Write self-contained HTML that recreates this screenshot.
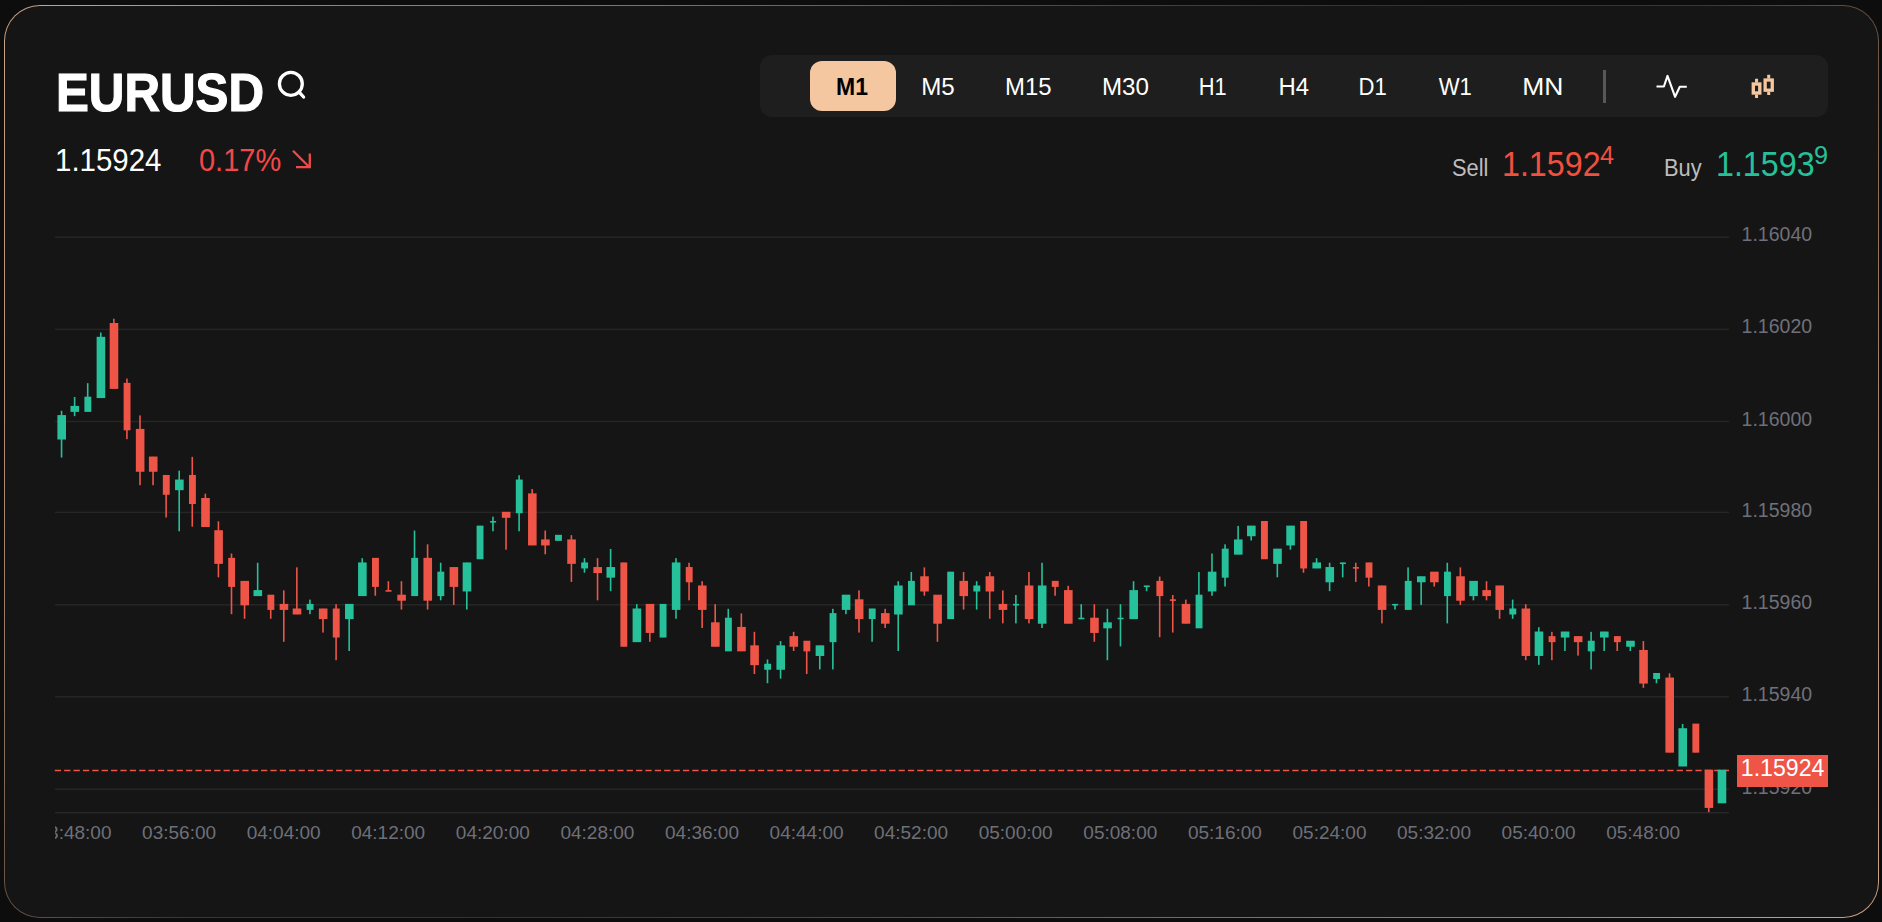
<!DOCTYPE html>
<html><head><meta charset="utf-8"><title>EURUSD</title>
<style>
html,body{margin:0;padding:0;background:#0d0d0d;}
body{width:1882px;height:922px;position:relative;overflow:hidden;font-family:"Liberation Sans",sans-serif;}
.card{position:absolute;left:3.9px;top:4.8px;width:1875.2px;height:913.5px;border-radius:36px;background:conic-gradient(from 0deg at 50% 50%,#645144 0deg,#3b3029 45deg,#40342c 59deg,#5f4d40 63.2deg,#645144 64.5deg,#786150 69deg,#866c59 72deg,#ac8b72 90deg,#cda587 116deg,#a0816a 125.6deg,#5f4d40 180deg,#3b3029 225deg,#40342c 239deg,#5f4d40 243.2deg,#645144 244.5deg,#786150 249deg,#886e5b 252deg,#b08e75 270deg,#cda587 296deg,#a0816a 305.6deg,#645144 360deg);}
.card i{position:absolute;left:1.25px;top:1.25px;right:1.25px;bottom:1.25px;border-radius:34.75px;background:#151515;display:block}
.abs{position:absolute;white-space:nowrap;line-height:1}
.title{left:56.2px;top:65.5px;font-size:54.5px;-webkit-text-stroke:1.2px #fff;font-weight:bold;color:#fff;transform-origin:0 0;transform:scaleX(.904);letter-spacing:0}
.price{left:55px;top:144.5px;font-size:31.5px;color:#fff;transform-origin:0 0;transform:scaleX(.935)}
.chg{left:199px;top:144.5px;font-size:31.5px;color:#f44848;transform-origin:0 0;transform:scaleX(.92)}
.toolbar{position:absolute;left:760.3px;top:55.3px;width:1067.7px;height:62px;border-radius:12px;background:#1e1e1e}
.tf{position:absolute;top:61.2px;height:50.3px;border-radius:12px;color:#fff;font-size:23px;text-align:center;line-height:53.2px}
.tf span{display:inline-block}
.tf.act{background:#f4c7a1;color:#000;font-weight:bold}
.sep{position:absolute;left:1603px;top:70.2px;width:3px;height:32.5px;background:#585858}
.lbl{font-size:23.5px;color:#bdbdbd;transform-origin:0 0;transform:scaleX(.93)}
.big{font-size:34.7px;transform-origin:0 0;transform:scaleX(.929)}
.sup{font-size:25.5px;transform-origin:0 0;transform:scaleX(.99)}
.chart{position:absolute;left:0;top:0}
.yl{position:absolute;left:1741.6px;font-size:19.5px;color:#6e707a;line-height:1;white-space:nowrap}
.xwrap{position:absolute;left:55px;top:0;width:1674px;height:922px;overflow:hidden}
.xl{position:absolute;top:822.9px;width:100px;margin-left:-55px;text-align:center;font-size:19px;color:#6e7079;line-height:1;white-space:nowrap}
.tag{position:absolute;left:1737px;top:755px;width:91px;height:31.5px;background:#ee5547;color:#fff;font-size:23px;line-height:27.3px;text-align:center;white-space:nowrap}
.tag span{display:inline-block;transform:scaleX(1.005)}
</style></head><body>
<div class="card"><i></i></div>
<div class="abs title">EURUSD</div>
<svg class="abs" style="left:274px;top:68px" width="36" height="36" viewBox="0 0 36 36"><circle cx="16.85" cy="15.85" r="11.45" fill="none" stroke="#fff" stroke-width="3.3"/><line x1="24.9" y1="23.9" x2="29.6" y2="29" stroke="#fff" stroke-width="3.3" stroke-linecap="round"/></svg>
<div class="abs price">1.15924</div>
<div class="abs chg">0.17%</div>
<svg class="abs" style="left:288px;top:146px" width="28" height="28" viewBox="0 0 28 28"><path d="M5 4.7 L21.5 21.2 M8 21.2 H21.8 V7.4" fill="none" stroke="#f44848" stroke-width="2.3"/></svg>
<div class="toolbar"></div>
<div class="tf act" style="left:810px;width:86px"><span style="transform:translateX(-1px) scaleX(1.0)">M1</span></div><div class="tf" style="left:896px;width:85px"><span style="transform:translateX(-1px) scaleX(1.05)">M5</span></div><div class="tf" style="left:981px;width:96px"><span style="transform:translateX(-1px) scaleX(1.04)">M15</span></div><div class="tf" style="left:1077px;width:98px"><span style="transform:translateX(-1px) scaleX(1.05)">M30</span></div><div class="tf" style="left:1175px;width:77px"><span style="transform:translateX(-1px) scaleX(0.95)">H1</span></div><div class="tf" style="left:1252px;width:85px"><span style="transform:translateX(-1px) scaleX(1.04)">H4</span></div><div class="tf" style="left:1337px;width:72px"><span style="transform:translateX(0px) scaleX(0.96)">D1</span></div><div class="tf" style="left:1409px;width:92px"><span style="transform:translateX(0px) scaleX(0.96)">W1</span></div><div class="tf" style="left:1501px;width:84px"><span style="transform:translateX(0px) scaleX(1.15)">MN</span></div>
<div class="sep"></div>
<svg class="abs" style="left:1650px;top:70px" width="44" height="34" viewBox="0 0 44 34"><path d="M6.5 16.5 H13.9 L17.5 5.9 L25.1 26.8 L29.8 16.7 H36.8" fill="none" stroke="#fff" stroke-width="2.1" stroke-linejoin="round"/></svg>
<svg class="abs" style="left:1745px;top:70px" width="36" height="34" viewBox="0 0 36 34"><g fill="none" stroke="#f4c7a1"><rect x="8.3" y="14" width="6.5" height="9" stroke-width="3.4"/><path d="M11.55 8.7V12.5 M11.55 24.5V27.9" stroke-width="3"/><rect x="20.15" y="10" width="7.1" height="10.2" stroke-width="3.3"/><path d="M23.7 4.8V8.5 M23.7 21.7V25.1" stroke-width="3"/></g></svg>
<div class="abs lbl" style="left:1452px;top:157px">Sell</div>
<div class="abs big" style="left:1501.5px;top:146.8px;color:#f2503f">1.1592</div>
<div class="abs sup" style="left:1600px;top:142.9px;color:#f2503f">4</div>
<div class="abs lbl" style="left:1664px;top:157px">Buy</div>
<div class="abs big" style="left:1715.5px;top:146.8px;color:#26c19a">1.1593</div>
<div class="abs sup" style="left:1813.5px;top:142.9px;color:#26c19a">9</div>
<svg class="chart" width="1882" height="922" viewBox="0 0 1882 922"><rect x="55" y="236.35" width="1674" height="1.5" fill="#262626"/><rect x="55" y="328.65" width="1674" height="1.5" fill="#262626"/><rect x="55" y="420.75" width="1674" height="1.5" fill="#262626"/><rect x="55" y="511.65" width="1674" height="1.5" fill="#262626"/><rect x="55" y="604.05" width="1674" height="1.5" fill="#262626"/><rect x="55" y="696.05" width="1674" height="1.5" fill="#262626"/><rect x="55" y="788.45" width="1674" height="1.5" fill="#262626"/><rect x="55" y="811.9" width="1674" height="1.6" fill="#262626"/><line x1="54.8" y1="770.6" x2="1729" y2="770.6" stroke="#ee5547" stroke-width="1.5" stroke-dasharray="6.25 3.125"/><rect x="60.75" y="410.79" width="1.6" height="46.80" fill="#26c19a"/><rect x="73.82" y="396.98" width="1.6" height="19.17" fill="#26c19a"/><rect x="86.90" y="383.16" width="1.6" height="28.38" fill="#26c19a"/><rect x="99.97" y="332.50" width="1.6" height="65.22" fill="#26c19a"/><rect x="113.04" y="318.69" width="1.6" height="69.82" fill="#ee5547"/><rect x="126.12" y="378.56" width="1.6" height="60.61" fill="#ee5547"/><rect x="139.19" y="415.40" width="1.6" height="69.82" fill="#ee5547"/><rect x="152.26" y="456.84" width="1.6" height="28.38" fill="#ee5547"/><rect x="165.33" y="475.26" width="1.6" height="42.19" fill="#ee5547"/><rect x="178.41" y="470.66" width="1.6" height="60.62" fill="#26c19a"/><rect x="191.48" y="456.84" width="1.6" height="69.83" fill="#ee5547"/><rect x="204.55" y="493.68" width="1.6" height="32.99" fill="#ee5547"/><rect x="217.63" y="521.31" width="1.6" height="56.01" fill="#ee5547"/><rect x="230.70" y="553.54" width="1.6" height="60.62" fill="#ee5547"/><rect x="243.77" y="581.18" width="1.6" height="37.59" fill="#ee5547"/><rect x="256.85" y="562.75" width="1.6" height="32.99" fill="#26c19a"/><rect x="269.92" y="594.99" width="1.6" height="23.77" fill="#ee5547"/><rect x="282.99" y="590.39" width="1.6" height="51.40" fill="#ee5547"/><rect x="296.06" y="567.36" width="1.6" height="46.80" fill="#ee5547"/><rect x="309.14" y="599.60" width="1.6" height="14.56" fill="#26c19a"/><rect x="322.21" y="608.81" width="1.6" height="23.77" fill="#ee5547"/><rect x="335.28" y="604.20" width="1.6" height="56.01" fill="#ee5547"/><rect x="348.36" y="604.20" width="1.6" height="46.80" fill="#26c19a"/><rect x="361.43" y="558.15" width="1.6" height="37.59" fill="#26c19a"/><rect x="374.50" y="558.15" width="1.6" height="37.59" fill="#ee5547"/><rect x="387.57" y="581.18" width="1.6" height="9.96" fill="#ee5547"/><rect x="400.65" y="581.18" width="1.6" height="28.38" fill="#ee5547"/><rect x="413.72" y="530.52" width="1.6" height="65.22" fill="#26c19a"/><rect x="426.79" y="544.34" width="1.6" height="65.22" fill="#ee5547"/><rect x="439.87" y="562.75" width="1.6" height="37.59" fill="#26c19a"/><rect x="452.94" y="567.36" width="1.6" height="37.59" fill="#ee5547"/><rect x="466.01" y="562.75" width="1.6" height="46.80" fill="#26c19a"/><rect x="479.09" y="525.92" width="1.6" height="32.98" fill="#26c19a"/><rect x="492.16" y="516.71" width="1.6" height="14.57" fill="#26c19a"/><rect x="505.23" y="512.10" width="1.6" height="37.59" fill="#ee5547"/><rect x="518.30" y="475.26" width="1.6" height="56.01" fill="#26c19a"/><rect x="531.38" y="489.08" width="1.6" height="56.01" fill="#ee5547"/><rect x="544.45" y="530.52" width="1.6" height="23.77" fill="#ee5547"/><rect x="557.52" y="535.13" width="1.6" height="5.35" fill="#26c19a"/><rect x="570.60" y="535.13" width="1.6" height="46.80" fill="#ee5547"/><rect x="583.67" y="558.15" width="1.6" height="14.57" fill="#26c19a"/><rect x="596.74" y="558.15" width="1.6" height="42.20" fill="#ee5547"/><rect x="609.82" y="548.94" width="1.6" height="42.20" fill="#26c19a"/><rect x="622.89" y="562.75" width="1.6" height="83.64" fill="#ee5547"/><rect x="635.96" y="604.20" width="1.6" height="37.59" fill="#26c19a"/><rect x="649.03" y="604.20" width="1.6" height="37.59" fill="#ee5547"/><rect x="662.11" y="604.20" width="1.6" height="32.99" fill="#26c19a"/><rect x="675.18" y="558.15" width="1.6" height="60.62" fill="#26c19a"/><rect x="688.25" y="562.75" width="1.6" height="37.59" fill="#ee5547"/><rect x="701.33" y="581.18" width="1.6" height="46.80" fill="#ee5547"/><rect x="714.40" y="604.20" width="1.6" height="42.20" fill="#ee5547"/><rect x="727.47" y="608.81" width="1.6" height="42.20" fill="#26c19a"/><rect x="740.55" y="613.41" width="1.6" height="37.59" fill="#ee5547"/><rect x="753.62" y="631.83" width="1.6" height="42.19" fill="#ee5547"/><rect x="766.69" y="659.46" width="1.6" height="23.77" fill="#26c19a"/><rect x="779.76" y="641.04" width="1.6" height="37.59" fill="#26c19a"/><rect x="792.84" y="631.83" width="1.6" height="19.17" fill="#ee5547"/><rect x="805.91" y="641.04" width="1.6" height="32.98" fill="#ee5547"/><rect x="818.98" y="645.65" width="1.6" height="23.77" fill="#26c19a"/><rect x="832.06" y="608.81" width="1.6" height="60.62" fill="#26c19a"/><rect x="845.13" y="594.99" width="1.6" height="19.17" fill="#26c19a"/><rect x="858.20" y="590.39" width="1.6" height="42.19" fill="#ee5547"/><rect x="871.28" y="608.81" width="1.6" height="32.99" fill="#26c19a"/><rect x="884.35" y="608.81" width="1.6" height="19.17" fill="#ee5547"/><rect x="897.42" y="581.18" width="1.6" height="69.83" fill="#26c19a"/><rect x="910.50" y="571.97" width="1.6" height="32.99" fill="#26c19a"/><rect x="923.57" y="567.36" width="1.6" height="28.38" fill="#ee5547"/><rect x="936.64" y="594.99" width="1.6" height="46.80" fill="#ee5547"/><rect x="949.71" y="571.97" width="1.6" height="46.80" fill="#26c19a"/><rect x="962.79" y="571.97" width="1.6" height="37.59" fill="#ee5547"/><rect x="975.86" y="581.18" width="1.6" height="28.38" fill="#26c19a"/><rect x="988.93" y="571.97" width="1.6" height="46.80" fill="#ee5547"/><rect x="1002.01" y="590.39" width="1.6" height="32.98" fill="#ee5547"/><rect x="1015.08" y="594.99" width="1.6" height="28.38" fill="#26c19a"/><rect x="1028.15" y="571.97" width="1.6" height="51.40" fill="#ee5547"/><rect x="1041.22" y="562.75" width="1.6" height="65.22" fill="#26c19a"/><rect x="1054.30" y="581.18" width="1.6" height="14.57" fill="#ee5547"/><rect x="1067.37" y="585.78" width="1.6" height="37.59" fill="#ee5547"/><rect x="1080.44" y="604.20" width="1.6" height="14.56" fill="#26c19a"/><rect x="1093.52" y="604.20" width="1.6" height="37.59" fill="#ee5547"/><rect x="1106.59" y="608.81" width="1.6" height="51.40" fill="#26c19a"/><rect x="1119.66" y="604.20" width="1.6" height="42.20" fill="#26c19a"/><rect x="1132.74" y="581.18" width="1.6" height="37.59" fill="#26c19a"/><rect x="1145.81" y="585.78" width="1.6" height="5.36" fill="#26c19a"/><rect x="1158.88" y="576.57" width="1.6" height="60.62" fill="#ee5547"/><rect x="1171.95" y="594.99" width="1.6" height="37.59" fill="#ee5547"/><rect x="1185.03" y="599.60" width="1.6" height="23.77" fill="#ee5547"/><rect x="1198.10" y="571.97" width="1.6" height="56.01" fill="#26c19a"/><rect x="1211.17" y="553.54" width="1.6" height="42.20" fill="#26c19a"/><rect x="1224.25" y="544.34" width="1.6" height="42.20" fill="#26c19a"/><rect x="1237.32" y="525.92" width="1.6" height="28.38" fill="#26c19a"/><rect x="1250.39" y="525.92" width="1.6" height="14.56" fill="#26c19a"/><rect x="1263.47" y="521.31" width="1.6" height="37.59" fill="#ee5547"/><rect x="1276.54" y="548.94" width="1.6" height="28.38" fill="#26c19a"/><rect x="1289.61" y="525.92" width="1.6" height="23.77" fill="#26c19a"/><rect x="1302.68" y="521.31" width="1.6" height="51.40" fill="#ee5547"/><rect x="1315.76" y="558.15" width="1.6" height="9.96" fill="#26c19a"/><rect x="1328.83" y="562.75" width="1.6" height="28.38" fill="#26c19a"/><rect x="1341.90" y="562.75" width="1.6" height="14.57" fill="#26c19a"/><rect x="1354.98" y="562.75" width="1.6" height="19.17" fill="#ee5547"/><rect x="1368.05" y="562.75" width="1.6" height="23.78" fill="#ee5547"/><rect x="1381.12" y="585.78" width="1.6" height="37.59" fill="#ee5547"/><rect x="1394.20" y="604.20" width="1.6" height="5.36" fill="#26c19a"/><rect x="1407.27" y="567.36" width="1.6" height="42.20" fill="#26c19a"/><rect x="1420.34" y="576.57" width="1.6" height="28.38" fill="#26c19a"/><rect x="1433.41" y="571.97" width="1.6" height="14.57" fill="#ee5547"/><rect x="1446.49" y="562.75" width="1.6" height="60.62" fill="#26c19a"/><rect x="1459.56" y="567.36" width="1.6" height="37.59" fill="#ee5547"/><rect x="1472.63" y="581.18" width="1.6" height="19.17" fill="#26c19a"/><rect x="1485.71" y="581.18" width="1.6" height="19.17" fill="#ee5547"/><rect x="1498.78" y="585.78" width="1.6" height="32.98" fill="#ee5547"/><rect x="1511.85" y="599.60" width="1.6" height="19.17" fill="#26c19a"/><rect x="1524.93" y="604.20" width="1.6" height="56.01" fill="#ee5547"/><rect x="1538.00" y="627.23" width="1.6" height="37.59" fill="#26c19a"/><rect x="1551.07" y="631.83" width="1.6" height="28.38" fill="#ee5547"/><rect x="1564.14" y="631.83" width="1.6" height="19.17" fill="#26c19a"/><rect x="1577.22" y="636.44" width="1.6" height="19.17" fill="#ee5547"/><rect x="1590.29" y="631.83" width="1.6" height="37.59" fill="#26c19a"/><rect x="1603.36" y="631.83" width="1.6" height="19.17" fill="#26c19a"/><rect x="1616.44" y="636.44" width="1.6" height="14.57" fill="#ee5547"/><rect x="1629.51" y="641.04" width="1.6" height="9.96" fill="#26c19a"/><rect x="1642.58" y="641.04" width="1.6" height="46.80" fill="#ee5547"/><rect x="1655.66" y="673.27" width="1.6" height="9.96" fill="#26c19a"/><rect x="1668.73" y="673.27" width="1.6" height="79.04" fill="#ee5547"/><rect x="1681.80" y="723.93" width="1.6" height="42.20" fill="#26c19a"/><rect x="1694.88" y="723.93" width="1.6" height="28.38" fill="#ee5547"/><rect x="1707.95" y="769.98" width="1.6" height="42.19" fill="#ee5547"/><rect x="1721.02" y="769.98" width="1.6" height="32.98" fill="#26c19a"/><rect x="57.40" y="415.10" width="8.6" height="24.42" fill="#26c19a"/><rect x="70.47" y="405.89" width="8.6" height="6.00" fill="#26c19a"/><rect x="84.40" y="396.68" width="6.9" height="15.21" fill="#26c19a"/><rect x="96.62" y="336.81" width="8.6" height="61.26" fill="#26c19a"/><rect x="109.69" y="323.00" width="8.6" height="65.87" fill="#ee5547"/><rect x="123.62" y="382.86" width="6.9" height="47.45" fill="#ee5547"/><rect x="135.84" y="428.91" width="8.6" height="42.84" fill="#ee5547"/><rect x="148.91" y="456.54" width="8.6" height="15.21" fill="#ee5547"/><rect x="162.83" y="474.96" width="6.9" height="19.82" fill="#ee5547"/><rect x="175.06" y="479.56" width="8.6" height="10.61" fill="#26c19a"/><rect x="188.98" y="474.96" width="6.9" height="29.03" fill="#ee5547"/><rect x="201.20" y="497.99" width="8.6" height="29.03" fill="#ee5547"/><rect x="214.28" y="530.22" width="8.6" height="33.63" fill="#ee5547"/><rect x="228.20" y="557.85" width="6.9" height="29.03" fill="#ee5547"/><rect x="240.42" y="580.88" width="8.6" height="24.43" fill="#ee5547"/><rect x="253.50" y="590.09" width="8.6" height="6.01" fill="#26c19a"/><rect x="267.42" y="594.69" width="6.9" height="15.22" fill="#ee5547"/><rect x="279.64" y="603.90" width="8.6" height="6.01" fill="#ee5547"/><rect x="292.71" y="608.50" width="8.6" height="6.00" fill="#ee5547"/><rect x="306.64" y="603.90" width="6.9" height="6.01" fill="#26c19a"/><rect x="318.86" y="608.50" width="8.6" height="10.61" fill="#ee5547"/><rect x="332.78" y="608.50" width="6.9" height="29.03" fill="#ee5547"/><rect x="345.01" y="603.90" width="8.6" height="15.22" fill="#26c19a"/><rect x="358.08" y="562.45" width="8.6" height="33.64" fill="#26c19a"/><rect x="372.00" y="557.85" width="6.9" height="29.03" fill="#ee5547"/><rect x="385.52" y="590.09" width="6.0" height="1.60" fill="#ee5547"/><rect x="397.30" y="594.69" width="8.6" height="6.00" fill="#ee5547"/><rect x="411.22" y="557.85" width="6.9" height="38.24" fill="#26c19a"/><rect x="423.44" y="557.85" width="8.6" height="42.85" fill="#ee5547"/><rect x="437.37" y="571.66" width="6.9" height="24.43" fill="#26c19a"/><rect x="449.59" y="567.06" width="8.6" height="19.82" fill="#ee5547"/><rect x="462.66" y="562.45" width="8.6" height="29.03" fill="#26c19a"/><rect x="476.59" y="525.62" width="6.9" height="33.63" fill="#26c19a"/><rect x="490.11" y="521.01" width="6.0" height="1.60" fill="#26c19a"/><rect x="501.88" y="511.80" width="8.6" height="6.01" fill="#ee5547"/><rect x="515.80" y="479.56" width="6.9" height="33.64" fill="#26c19a"/><rect x="528.03" y="493.38" width="8.6" height="52.06" fill="#ee5547"/><rect x="541.10" y="539.43" width="8.6" height="6.01" fill="#ee5547"/><rect x="555.02" y="534.83" width="6.9" height="6.00" fill="#26c19a"/><rect x="567.25" y="539.43" width="8.6" height="24.43" fill="#ee5547"/><rect x="581.17" y="562.45" width="6.9" height="6.01" fill="#26c19a"/><rect x="593.39" y="567.06" width="8.6" height="6.01" fill="#ee5547"/><rect x="606.47" y="567.06" width="8.6" height="10.61" fill="#26c19a"/><rect x="620.39" y="562.45" width="6.9" height="84.29" fill="#ee5547"/><rect x="632.61" y="608.50" width="8.6" height="33.64" fill="#26c19a"/><rect x="645.69" y="603.90" width="8.6" height="29.03" fill="#ee5547"/><rect x="659.61" y="603.90" width="6.9" height="33.64" fill="#26c19a"/><rect x="671.83" y="562.45" width="8.6" height="47.45" fill="#26c19a"/><rect x="685.75" y="567.06" width="6.9" height="15.22" fill="#ee5547"/><rect x="697.98" y="585.48" width="8.6" height="24.43" fill="#ee5547"/><rect x="711.05" y="622.32" width="8.6" height="24.43" fill="#ee5547"/><rect x="724.97" y="617.71" width="6.9" height="33.64" fill="#26c19a"/><rect x="737.20" y="626.92" width="8.6" height="24.43" fill="#ee5547"/><rect x="750.27" y="645.35" width="8.6" height="19.82" fill="#ee5547"/><rect x="764.19" y="663.76" width="6.9" height="6.01" fill="#26c19a"/><rect x="776.42" y="645.35" width="8.6" height="24.43" fill="#26c19a"/><rect x="789.49" y="636.13" width="8.6" height="10.61" fill="#ee5547"/><rect x="803.41" y="640.74" width="6.9" height="10.61" fill="#ee5547"/><rect x="815.63" y="645.35" width="8.6" height="10.61" fill="#26c19a"/><rect x="829.56" y="613.11" width="6.9" height="29.03" fill="#26c19a"/><rect x="841.78" y="594.69" width="8.6" height="15.22" fill="#26c19a"/><rect x="854.85" y="599.29" width="8.6" height="19.82" fill="#ee5547"/><rect x="868.78" y="608.50" width="6.9" height="10.61" fill="#26c19a"/><rect x="881.00" y="613.11" width="8.6" height="10.61" fill="#ee5547"/><rect x="894.07" y="585.48" width="8.6" height="29.03" fill="#26c19a"/><rect x="908.00" y="580.88" width="6.9" height="24.43" fill="#26c19a"/><rect x="920.22" y="576.27" width="8.6" height="15.22" fill="#ee5547"/><rect x="933.29" y="594.69" width="8.6" height="29.03" fill="#ee5547"/><rect x="947.21" y="571.66" width="6.9" height="47.45" fill="#26c19a"/><rect x="959.44" y="580.88" width="8.6" height="15.22" fill="#ee5547"/><rect x="973.36" y="585.48" width="6.9" height="6.01" fill="#26c19a"/><rect x="985.58" y="576.27" width="8.6" height="15.22" fill="#ee5547"/><rect x="998.66" y="603.90" width="8.6" height="6.01" fill="#ee5547"/><rect x="1013.03" y="603.90" width="6.0" height="1.60" fill="#26c19a"/><rect x="1024.80" y="585.48" width="8.6" height="33.63" fill="#ee5547"/><rect x="1037.88" y="585.48" width="8.6" height="38.24" fill="#26c19a"/><rect x="1051.80" y="580.88" width="6.9" height="6.01" fill="#ee5547"/><rect x="1064.02" y="590.09" width="8.6" height="33.63" fill="#ee5547"/><rect x="1078.39" y="617.71" width="6.0" height="1.60" fill="#26c19a"/><rect x="1090.17" y="617.71" width="8.6" height="15.22" fill="#ee5547"/><rect x="1103.24" y="622.32" width="8.6" height="6.01" fill="#26c19a"/><rect x="1117.61" y="617.71" width="6.0" height="1.60" fill="#26c19a"/><rect x="1129.39" y="590.09" width="8.6" height="29.03" fill="#26c19a"/><rect x="1143.76" y="585.48" width="6.0" height="1.60" fill="#26c19a"/><rect x="1156.38" y="580.88" width="6.9" height="15.22" fill="#ee5547"/><rect x="1169.90" y="599.29" width="6.0" height="1.60" fill="#ee5547"/><rect x="1181.68" y="603.90" width="8.6" height="19.82" fill="#ee5547"/><rect x="1195.60" y="594.69" width="6.9" height="33.63" fill="#26c19a"/><rect x="1207.82" y="571.66" width="8.6" height="19.82" fill="#26c19a"/><rect x="1221.75" y="548.64" width="6.9" height="29.03" fill="#26c19a"/><rect x="1233.97" y="539.43" width="8.6" height="15.22" fill="#26c19a"/><rect x="1247.04" y="525.62" width="8.6" height="10.61" fill="#26c19a"/><rect x="1260.97" y="521.01" width="6.9" height="38.24" fill="#ee5547"/><rect x="1273.19" y="548.64" width="8.6" height="15.22" fill="#26c19a"/><rect x="1286.26" y="525.62" width="8.6" height="19.82" fill="#26c19a"/><rect x="1300.18" y="521.01" width="6.9" height="47.45" fill="#ee5547"/><rect x="1312.41" y="562.45" width="8.6" height="6.01" fill="#26c19a"/><rect x="1325.48" y="567.06" width="8.6" height="15.22" fill="#26c19a"/><rect x="1339.85" y="562.45" width="6.0" height="1.60" fill="#26c19a"/><rect x="1352.93" y="567.06" width="6.0" height="1.60" fill="#ee5547"/><rect x="1365.55" y="562.45" width="6.9" height="15.22" fill="#ee5547"/><rect x="1377.77" y="585.48" width="8.6" height="24.43" fill="#ee5547"/><rect x="1392.15" y="603.90" width="6.0" height="1.60" fill="#26c19a"/><rect x="1404.77" y="580.88" width="6.9" height="29.03" fill="#26c19a"/><rect x="1416.99" y="576.27" width="8.6" height="6.01" fill="#26c19a"/><rect x="1430.07" y="571.66" width="8.6" height="10.61" fill="#ee5547"/><rect x="1443.99" y="571.66" width="6.9" height="24.43" fill="#26c19a"/><rect x="1456.21" y="576.27" width="8.6" height="24.43" fill="#ee5547"/><rect x="1469.28" y="580.88" width="8.6" height="15.22" fill="#26c19a"/><rect x="1482.36" y="590.09" width="8.6" height="6.01" fill="#ee5547"/><rect x="1495.43" y="585.48" width="8.6" height="24.43" fill="#ee5547"/><rect x="1509.35" y="608.50" width="6.9" height="6.00" fill="#26c19a"/><rect x="1521.58" y="608.50" width="8.6" height="47.45" fill="#ee5547"/><rect x="1534.65" y="631.53" width="8.6" height="24.43" fill="#26c19a"/><rect x="1548.57" y="636.13" width="6.9" height="6.01" fill="#ee5547"/><rect x="1560.80" y="631.53" width="8.6" height="6.01" fill="#26c19a"/><rect x="1573.87" y="636.13" width="8.6" height="6.01" fill="#ee5547"/><rect x="1587.79" y="640.74" width="6.9" height="10.61" fill="#26c19a"/><rect x="1600.01" y="631.53" width="8.6" height="6.01" fill="#26c19a"/><rect x="1613.94" y="636.13" width="6.9" height="6.01" fill="#ee5547"/><rect x="1626.16" y="640.74" width="8.6" height="6.01" fill="#26c19a"/><rect x="1639.23" y="649.95" width="8.6" height="33.63" fill="#ee5547"/><rect x="1653.16" y="672.97" width="6.9" height="6.01" fill="#26c19a"/><rect x="1665.38" y="677.58" width="8.6" height="75.08" fill="#ee5547"/><rect x="1678.45" y="728.24" width="8.6" height="38.24" fill="#26c19a"/><rect x="1692.38" y="723.63" width="6.9" height="29.03" fill="#ee5547"/><rect x="1704.60" y="769.68" width="8.6" height="38.24" fill="#ee5547"/><rect x="1717.67" y="769.68" width="8.6" height="33.63" fill="#26c19a"/></svg>
<div class="yl" style="top:225.1px">1.16040</div><div class="yl" style="top:317.1px">1.16020</div><div class="yl" style="top:409.8px">1.16000</div><div class="yl" style="top:501.2px">1.15980</div><div class="yl" style="top:593.3px">1.15960</div><div class="yl" style="top:685.4px">1.15940</div><div class="yl" style="top:778.0px">1.15920</div>
<div class="xwrap"><div class="xl" style="left:24.5px">03:48:00</div><div class="xl" style="left:129.1px">03:56:00</div><div class="xl" style="left:233.7px">04:04:00</div><div class="xl" style="left:338.2px">04:12:00</div><div class="xl" style="left:442.8px">04:20:00</div><div class="xl" style="left:547.4px">04:28:00</div><div class="xl" style="left:652.0px">04:36:00</div><div class="xl" style="left:756.6px">04:44:00</div><div class="xl" style="left:861.1px">04:52:00</div><div class="xl" style="left:965.7px">05:00:00</div><div class="xl" style="left:1070.3px">05:08:00</div><div class="xl" style="left:1174.9px">05:16:00</div><div class="xl" style="left:1279.5px">05:24:00</div><div class="xl" style="left:1384.0px">05:32:00</div><div class="xl" style="left:1488.6px">05:40:00</div><div class="xl" style="left:1593.2px">05:48:00</div></div>
<div class="tag"><span>1.15924</span></div>
</body></html>
